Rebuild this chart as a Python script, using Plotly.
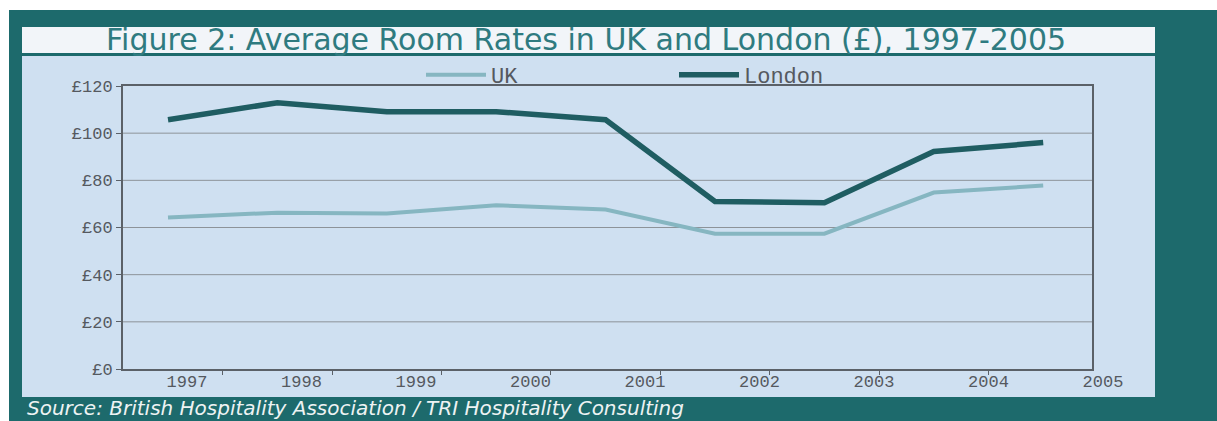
import plotly.graph_objects as go

# ---- data ----
years = [1997, 1998, 1999, 2000, 2001, 2002, 2003, 2004, 2005]
year_labels = ["1997", "1998", "1999", "2000", "2001", "2002", "2003", "2004", "2005"]
uk = [64.2, 66.3, 65.9, 69.4, 67.6, 57.4, 57.4, 74.8, 77.8]
london = [105.7, 112.9, 109.1, 109.1, 105.7, 71.0, 70.5, 92.2, 96.0]
y_ticks = [0, 20, 40, 60, 80, 100, 120]

# ---- page geometry helpers ----
W, H = 1217, 421
L, R, T, B = 123, 67, 86, 52
PW, PH = W - L - R, H - T - B


def px(x):
    return (x - L) / PW


def py(y):
    return (H - B - y) / PH


TEAL = "#1d6a6c"
PANEL = "#cfe0f1"
TITLEBAR = "#f2f5f9"
LONDON_C = "#1f5d62"
UK_C = "#86b6c1"
GRID = "#8d9399"
AXIS = "#5b6168"
TXT = "#55595f"
MONO = "Liberation Mono, DejaVu Sans Mono, monospace"

fig = go.Figure()
fig.add_trace(go.Scatter(x=years, y=uk, name="UK", mode="lines",
                         line=dict(color=UK_C, width=4)))
fig.add_trace(go.Scatter(x=years, y=london, name="London", mode="lines",
                         line=dict(color=LONDON_C, width=5.5)))
# carrier for the label axis
fig.add_trace(go.Scatter(x=years, y=[None] * len(years), xaxis="x2", yaxis="y",
                         mode="lines", showlegend=False, hoverinfo="skip"))

step_data = 109.4
x0_data = 168
x_lo = years[0] + (L - x0_data) / step_data
x_hi = years[0] + (1092 - x0_data) / step_data

step_lab = 114.5
x0_lab = 187
x2_lo = years[0] + (L - x0_lab) / step_lab
x2_hi = years[0] + (W - R - x0_lab) / step_lab

shapes = [
    dict(type="rect", xref="paper", yref="paper", x0=px(9), x1=px(W + 5), y0=py(10), y1=py(H + 5),
         fillcolor=TEAL, line=dict(width=0), layer="below"),
    dict(type="rect", xref="paper", yref="paper", x0=px(22), x1=px(1155), y0=py(27), y1=py(53),
         fillcolor=TITLEBAR, line=dict(width=0), layer="below"),
    dict(type="rect", xref="paper", yref="paper", x0=px(22), x1=px(1155), y0=py(56), y1=py(397),
         fillcolor=PANEL, line=dict(width=0), layer="below"),
]
# horizontal gridlines limited to the data axis domain
for v in y_ticks[1:-1]:
    shapes.append(dict(type="line", xref="x domain", yref="y", x0=0, x1=1, y0=v, y1=v,
                       line=dict(color=GRID, width=1), layer="below"))

fig.update_layout(
    width=W, height=H,
    margin=dict(l=L, r=R, t=T, b=B, pad=0),
    paper_bgcolor="white",
    plot_bgcolor="rgba(0,0,0,0)",
    shapes=shapes,
    showlegend=True,
    legend=dict(orientation="h", x=px(421), y=py(75), xanchor="left", yanchor="middle",
                bgcolor="rgba(0,0,0,0)", font=dict(family=MONO, size=22, color=TXT),
                entrywidth=178, entrywidthmode="pixels", itemwidth=60, tracegroupgap=0),
    xaxis=dict(type="linear", range=[x_lo, x_hi], domain=[0, px(1092)],
               showgrid=False, zeroline=False, showline=True, linecolor=AXIS, linewidth=2,
               mirror=True, tickvals=[y + 0.5 for y in years[:-1]], ticks="outside",
               ticklen=4, tickcolor=AXIS, showticklabels=False, anchor="y"),
    xaxis2=dict(type="linear", range=[x2_lo, x2_hi], domain=[0, 1], anchor="y",
                showgrid=False, zeroline=False, showline=False, ticks="",
                tickvals=years, ticktext=year_labels,
                tickfont=dict(family=MONO, size=17, color=TXT)),
    yaxis=dict(range=[0, 120], tickvals=y_ticks, ticktext=["£" + str(v) for v in y_ticks],
               showgrid=False, zeroline=False,
               showline=True, linecolor=AXIS, linewidth=2, mirror=True,
               ticks="outside", ticklen=5, tickcolor=AXIS,
               tickfont=dict(family=MONO, size=17, color=TXT)),
    annotations=[
        dict(xref="paper", yref="paper", x=px(586), y=py(40), xanchor="center", yanchor="middle",
             text="Figure 2: Average Room Rates in UK and London (£), 1997-2005", showarrow=False,
             font=dict(family="DejaVu Sans, sans-serif", size=30, color="#2f7b80")),
        dict(xref="paper", yref="paper", x=px(25), y=py(408), xanchor="left", yanchor="middle",
             text="<i>Source: British Hospitality Association / TRI Hospitality Consulting</i>",
             showarrow=False,
             font=dict(family="DejaVu Sans, sans-serif", size=20, color="#eef3f3")),
    ],
)

fig.write_html("out.html")
